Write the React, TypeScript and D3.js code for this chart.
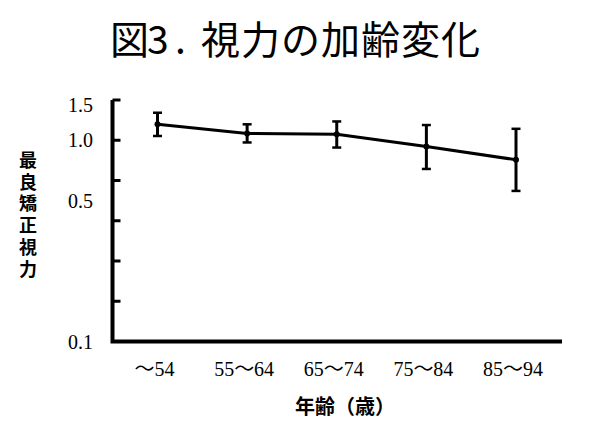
import * as d3 from 'd3';

const ageGroups = ['～54', '55～64', '65～74', '75～84', '85～94'];
const meanAcuity = [1.2, 1.08, 1.07, 0.93, 0.8];
const upperAcuity = [1.37, 1.2, 1.24, 1.19, 1.14];
const lowerAcuity = [1.05, 0.975, 0.92, 0.72, 0.56];
const yTickLabels = [0.1, 0.5, 1.0, 1.5];
const yTickMarks = [0, 1, 2, 3, 4, 5, 6].map(k => Math.pow(10, -1 + 0.2 * k));
const yTitle = '最良矯正視力';

const jp = '"Noto Sans CJK JP", "Noto Sans", sans-serif';
const serif = '"Liberation Serif", "Times New Roman", "Noto Sans CJK JP", serif';

export default function App() {
  const left = 112.5;
  const bottom = 341.5;
  const right = 562;

  const y = d3.scaleLog().domain([0.1, Math.pow(10, 0.2)]).range([bottom, 100]);
  const x = d3.scalePoint<string>().domain(ageGroups).range([157.5, 516]);

  const line = d3.line<number>()
    .x((_, i) => x(ageGroups[i]) as number)
    .y(d => y(d));

  return (
    <svg
      width="600"
      height="427"
      style={{ position: 'absolute', left: 0, top: 0, background: '#fff' }}
    >
      {/* title */}
      <g fontFamily={jp} fontSize="39" fill="#000">
        <text x={110} y={54}>図</text>
        <text x={147} y={54}>3</text>
        <text x={175} y={54}>.</text>
        <text x={201} y={54} letterSpacing="1">視力の加齢変化</text>
      </g>

      {/* axes */}
      <path
        d={`M${left},100 V${bottom} H${right}`}
        fill="none"
        stroke="#000"
        strokeWidth={4}
      />
      {yTickMarks.map((t, i) => (
        <line key={i} x1={left} x2={left + 8} y1={y(t)} y2={y(t)} stroke="#000" strokeWidth={3} />
      ))}
      {yTickLabels.map(t => (
        <text
          key={t}
          x={93}
          y={y(t)}
          dy="0.35em"
          textAnchor="end"
          fontFamily={serif}
          fontSize="20"
        >
          {t.toFixed(1)}
        </text>
      ))}
      {ageGroups.map(g => (
        <text
          key={g}
          x={(x(g) as number) - 3}
          y={376}
          textAnchor="middle"
          fontFamily={serif}
          fontSize="20"
        >
          {g}
        </text>
      ))}

      {/* axis titles */}
      <text x={345} y={414} textAnchor="middle" fontFamily={jp} fontSize="20" fontWeight="bold">
        年齢（歳）
      </text>
      <text
        x={28}
        y={151}
        writingMode="vertical-rl"
        style={{ writingMode: 'vertical-rl' }}
        fontFamily={jp}
        fontSize="18"
        fontWeight="bold"
        letterSpacing="3.8"
      >
        {yTitle}
      </text>

      {/* error bars */}
      {ageGroups.map((g, i) => {
        const cx = x(g) as number;
        return (
          <g key={g} stroke="#000">
            <line x1={cx} x2={cx} y1={y(upperAcuity[i])} y2={y(lowerAcuity[i])} strokeWidth={3} />
            <line x1={cx - 4.5} x2={cx + 4.5} y1={y(upperAcuity[i])} y2={y(upperAcuity[i])} strokeWidth={2.5} />
            <line x1={cx - 4.5} x2={cx + 4.5} y1={y(lowerAcuity[i])} y2={y(lowerAcuity[i])} strokeWidth={2.5} />
          </g>
        );
      })}

      {/* mean line */}
      <path d={line(meanAcuity) || ''} fill="none" stroke="#000" strokeWidth={3} />
      {meanAcuity.map((v, i) => (
        <circle key={i} cx={x(ageGroups[i]) as number} cy={y(v)} r={3} fill="#000" />
      ))}
    </svg>
  );
}
